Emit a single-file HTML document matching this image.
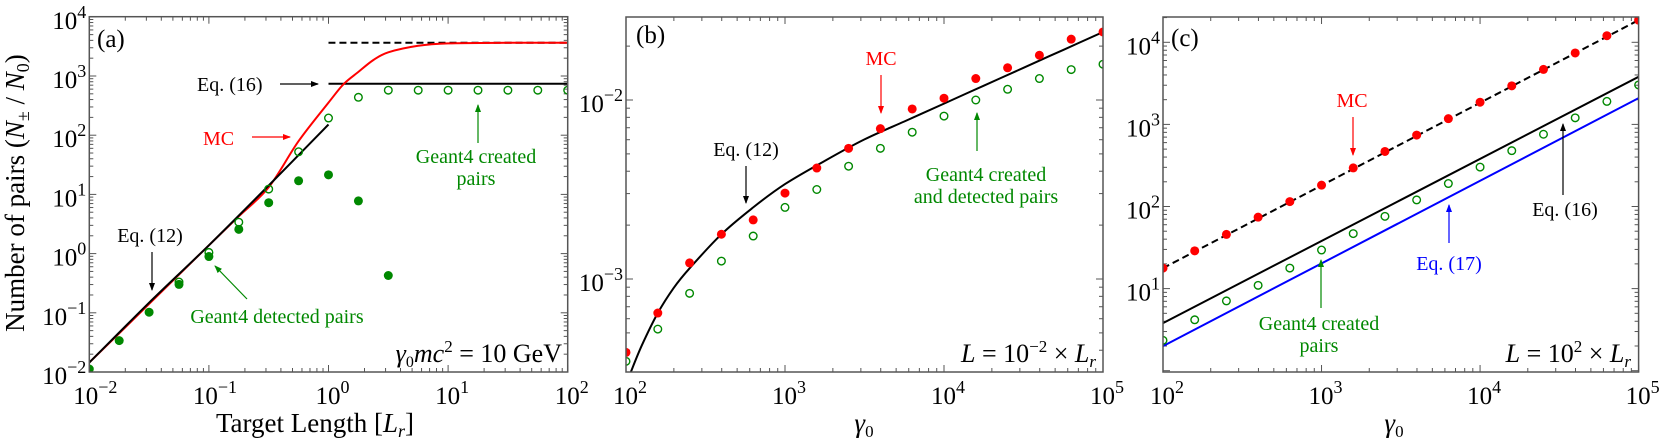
<!DOCTYPE html>
<html><head><meta charset="utf-8">
<style>
html,body{margin:0;padding:0;background:#fff;}
svg{display:block;}
svg text{font-family:"Liberation Serif","Times New Roman","DejaVu Serif",serif;}
</style></head>
<body>
<svg id="fig" width="1661" height="442" viewBox="0 0 1661 442" xmlns="http://www.w3.org/2000/svg" style="font-family:'Liberation Serif','Times New Roman','DejaVu Serif',serif;">
<defs>
<marker id="ak" markerWidth="8" markerHeight="8" refX="7" refY="4" orient="auto" markerUnits="userSpaceOnUse"><path d="M0,1 L8,4 L0,7 Z" fill="#000"/></marker>
<marker id="ar" markerWidth="8" markerHeight="8" refX="7" refY="4" orient="auto" markerUnits="userSpaceOnUse"><path d="M0,1 L8,4 L0,7 Z" fill="#f00"/></marker>
<marker id="ag" markerWidth="8" markerHeight="8" refX="7" refY="4" orient="auto" markerUnits="userSpaceOnUse"><path d="M0,1 L8,4 L0,7 Z" fill="#080"/></marker>
<marker id="ab" markerWidth="8" markerHeight="8" refX="7" refY="4" orient="auto" markerUnits="userSpaceOnUse"><path d="M0,1 L8,4 L0,7 Z" fill="#00f"/></marker>
</defs>
</svg>
<script>
// ---------- data (log10 values) ----------
const aDetX = [-2,-1.75,-1.5,-1.25,-1,-0.75,-0.5,-0.25,0,0.25,0.5];
const aDetY = [-1.95,-1.47,-0.99,-0.52,-0.05,0.41,0.86,1.23,1.33,0.89,-0.37];
const aCreX = [-1.25,-1,-0.75,-0.5,-0.25,0,0.25,0.5,0.75,1,1.25,1.5,1.75,2];
const aCreY = [-0.48,0.02,0.53,1.09,1.72,2.29,2.64,2.76,2.76,2.76,2.76,2.76,2.76,2.76];
const aEq12X = [-2,-1.5,-1,-0.5,0];
const aEq12Y = [-1.84,-0.83,0.14,1.15,2.18];
const aMcX = [-2,-1.5,-1,-0.75,-0.5,-0.25,0,0.125,0.25,0.375,0.5,0.75,1,1.5,2];
const aMcY = [-1.84,-0.85,0.14,0.63,1.12,1.9,2.55,2.86,3.07,3.27,3.4,3.51,3.55,3.56,3.56];
const aSatX = [0,2];
const aSatY = [3.56,3.56];
const aEq16X = [0,2];
const aEq16Y = [2.87,2.87];
const bX = [2,2.2,2.4,2.6,2.8,3,3.2,3.4,3.6,3.8,4,4.2,4.4,4.6,4.8,5];
const bMc = [-3.41,-3.19,-2.91,-2.75,-2.67,-2.52,-2.38,-2.27,-2.16,-2.05,-1.99,-1.88,-1.82,-1.75,-1.66,-1.62];
const bG4 = [-3.46,-3.28,-3.08,-2.90,-2.76,-2.60,-2.50,-2.37,-2.27,-2.18,-2.09,-2.00,-1.94,-1.88,-1.83,-1.80];
const bEqX = [2.03,2.1,2.2,2.3,2.4,2.6,2.8,3,3.25,3.5,3.75,4,4.25,4.5,4.75,5];
const bEqY = [-3.52,-3.37,-3.19,-3.05,-2.94,-2.75,-2.60,-2.47,-2.34,-2.22,-2.12,-2.02,-1.92,-1.82,-1.72,-1.62];
const cX = [2,2.2,2.4,2.6,2.8,3,3.2,3.4,3.6,3.8,4,4.2,4.4,4.6,4.8,5];
const cMc = [1.25,1.46,1.66,1.87,2.06,2.26,2.47,2.67,2.87,3.07,3.27,3.47,3.67,3.87,4.08,4.27];
const cG4 = [0.37,0.62,0.85,1.04,1.25,1.47,1.67,1.88,2.08,2.28,2.48,2.68,2.88,3.08,3.28,3.48];
const cLineX = [2,5];
const cEq16 = [0.58,3.58];
const cEq17 = [0.30,3.32];
const cDashX = [2,5];
const cDash = [1.25,4.27];
const aXTicks = [-2,-1,0,1,2];
const aYTicks = [-2,-1,0,1,2,3,4];
const bXTicks = [2,3,4,5];
const bYTicks = [-3,-2];
const cXTicks = [2,3,4,5];
const cYTicks = [1,2,3,4];

const NS = "http://www.w3.org/2000/svg";
const svg = document.getElementById('fig');
function mk(tag, attrs, parent){
  const e = document.createElementNS(NS, tag);
  for (const k in attrs) e.setAttribute(k, attrs[k]);
  if (tag==='text') e.setAttribute('font-family',"'Liberation Serif','Times New Roman','DejaVu Serif',serif");
  (parent||svg).appendChild(e);
  return e;
}
function axes(P){
  P.sx = v => P.x0 + (v - P.xmin)/(P.xmax-P.xmin)*(P.x1-P.x0);
  P.sy = v => P.yref - (v - P.yrefv)*P.ydec;
  P.g = mk('g',{});
  
  
  const ylo = P.yrefv - (P.y1 - P.yref)/P.ydec, yhi = P.yrefv + (P.yref - P.y0)/P.ydec;
  const tg = mk('g',{stroke:'#555','stroke-width':1}, P.g);
  
  
  for (let d=Math.floor(P.xmin); d<=P.xmax; d++){
    for (let m=1;m<10;m++){
      const v = d+Math.log10(m); if (v<P.xmin-1e-9||v>P.xmax+1e-9) continue;
      const px=P.sx(v), len = m===1?7:4;
      mk('line',{x1:px,x2:px,y1:P.y1,y2:P.y1-len},tg);
      mk('line',{x1:px,x2:px,y1:P.y0,y2:P.y0+len},tg);
    }
  }
  for (let d=Math.floor(ylo); d<=yhi; d++){
    for (let m=1;m<10;m++){
      const v = d+Math.log10(m); if (v<ylo-1e-9||v>yhi+1e-9) continue;
      const py=P.sy(v), len = m===1?7:4;
      mk('line',{x1:P.x0,x2:P.x0+len,y1:py,y2:py},tg);
      mk('line',{x1:P.x1,x2:P.x1-len,y1:py,y2:py},tg);
    }
  }
  P.xt.forEach(v=>{
    const sup = String(v).replace('-','\u2212');
    const t = mk('text',{x:P.sx(v)+(sup.length>1?6:4),y:P.y1+32,'text-anchor':'middle','font-size':25},P.g);
    
    
    t.textContent='10';
    const s = mk('tspan',{dy:-11,'font-size':18},t); s.textContent=sup;
  });
  P.yt.forEach(v=>{
    const sup = String(v).replace('-','\u2212');
    const t = mk('text',{x:P.x0-3,y:P.sy(v)+12,'text-anchor':'end','font-size':25},P.g);
    
    
    t.textContent='10';
    const s = mk('tspan',{dy:-11,'font-size':18},t); s.textContent=sup;
  });
}
function frame(P){
  const r = mk('rect',{x:P.x0,y:P.y0,width:P.x1-P.x0,height:P.y1-P.y0,fill:'none',stroke:'#555','stroke-width':1.5},P.g);
  
  
}
function clipFor(P){
  const id='clip'+P.name;
  const c = mk('clipPath',{id:id});
  mk('rect',{x:P.x0,y:P.y0,width:P.x1-P.x0,height:P.y1-P.y0},c);
  return 'url(#'+id+')';
}
function line(P, xs, ys, attrs, name){
  const pts = xs.map((x,i)=>[P.sx(x),P.sy(ys[i])]);
  let d = 'M'+pts[0][0].toFixed(1)+','+pts[0][1].toFixed(1);
  for (let i=0;i<pts.length-1;i++){
    const p0=pts[Math.max(0,i-1)], p1=pts[i], p2=pts[i+1], p3=pts[Math.min(pts.length-1,i+2)];
    const c1=[p1[0]+(p2[0]-p0[0])/6, p1[1]+(p2[1]-p0[1])/6];
    const c2=[p2[0]-(p3[0]-p1[0])/6, p2[1]-(p3[1]-p1[1])/6];
    d += ' C'+c1[0].toFixed(1)+','+c1[1].toFixed(1)+' '+c2[0].toFixed(1)+','+c2[1].toFixed(1)+' '+p2[0].toFixed(1)+','+p2[1].toFixed(1);
  }
  const p = mk('path',Object.assign({d:d,fill:'none','clip-path':P.clip},attrs),P.g);
  
  
}
function dots(P, xs, ys, filled, color, name){
  const g = mk('g',{'clip-path':P.clip},P.g);
  
  
  xs.forEach((x,i)=>{
    const c = filled ? mk('circle',{cx:P.sx(x),cy:P.sy(ys[i]),r:4.5,fill:color},g)
                     : mk('circle',{cx:P.sx(x),cy:P.sy(ys[i]),r:3.8,fill:'none',stroke:color,'stroke-width':1.4},g);
    
    
  });
}
function txt(x,y,s,attrs,name){
  const t = mk('text',Object.assign({x:x,y:y,'font-size':20},attrs||{}));
  
  
  t.innerHTML = s;
  return t;
}
function arrow(x1,y1,x2,y2,color,mid,name){
  const l = mk('line',{x1:x1,y1:y1,x2:x2,y2:y2,stroke:color,'stroke-width':1.2,'marker-end':'url(#'+mid+')'});
  
  
}

// ---------- panel a ----------
const A = {name:'panel-a',x0:89.3,x1:567.7,y0:16.7,y1:372,xmin:-2,xmax:2,yref:372,yrefv:-2,ydec:59.2,xt:aXTicks,yt:aYTicks};
axes(A); A.clip = clipFor(A);
line(A,aSatX,aSatY,{stroke:'#000','stroke-width':2,'stroke-dasharray':'7,4'},'mc-saturation-dashed-line');
line(A,aEq16X,aEq16Y,{stroke:'#000','stroke-width':2},'eq16-line');
line(A,aMcX,aMcY,{stroke:'#f00','stroke-width':2},'mc-curve');
line(A,aEq12X,aEq12Y,{stroke:'#000','stroke-width':2},'eq12-line');
dots(A,aCreX,aCreY,false,'#080','geant4-created-points');
dots(A,aDetX,aDetY,true,'#080','geant4-detected-points');
frame(A);
txt(97,47,'(a)',{'font-size':25},'panel-a-label');
txt(197,91,'Eq. (16)',{},'eq16-annotation'); arrow(280,84,318,84,'#000','ak','eq16-arrow');
txt(203,145,'MC',{fill:'#f00'},'mc-annotation'); arrow(252,137,290,137,'#f00','ar','mc-arrow');
txt(476,163,'Geant4 created',{fill:'#080','text-anchor':'middle'},'geant4-created-annotation');
txt(476,185,'pairs',{fill:'#080','text-anchor':'middle'},'geant4-created-annotation-2');
arrow(478,143,478,105,'#080','ag','geant4-created-arrow');
txt(150,242,'Eq. (12)',{'text-anchor':'middle'},'eq12-annotation'); arrow(152,252,152,290,'#000','ak','eq12-arrow');
txt(277,323,'Geant4 detected pairs',{fill:'#080','text-anchor':'middle'},'geant4-detected-annotation');
arrow(247,299,215,266,'#080','ag','geant4-detected-arrow');
txt(562,362,'<tspan font-style="italic">γ</tspan><tspan font-size="16" dy="5">0</tspan><tspan dy="-5" font-style="italic">mc</tspan><tspan font-size="17" dy="-10">2</tspan><tspan dy="10"> = 10 GeV</tspan>',{'text-anchor':'end','font-size':26},'energy-annotation');
txt(315,432,'Target Length [<tspan font-style="italic">L</tspan><tspan font-style="italic" font-size="18" dy="5">r</tspan><tspan dy="-5">]</tspan>',{'text-anchor':'middle','font-size':27},'x-axis-title-a');
txt(0,0,'Number of pairs (<tspan font-style="italic">N</tspan><tspan font-size="18" dy="5">±</tspan><tspan dy="-5"> / </tspan><tspan font-style="italic">N</tspan><tspan font-size="18" dy="5">0</tspan><tspan dy="-5">)</tspan>',{'text-anchor':'middle','font-size':27,transform:'translate(24,193) rotate(-90)'},'y-axis-title');

// ---------- panel b ----------
const B = {name:'panel-b',x0:626,x1:1103,y0:17,y1:372,xmin:2,xmax:5,yref:100,yrefv:-2,ydec:179,xt:bXTicks,yt:bYTicks};
axes(B); B.clip = clipFor(B);
line(B,bEqX,bEqY,{stroke:'#000','stroke-width':2},'eq12-curve-b');
dots(B,bX,bG4,false,'#080','geant4-points-b');
dots(B,bX,bMc,true,'#f00','mc-points-b');
frame(B);
txt(636,43,'(b)',{'font-size':25},'panel-b-label');
txt(881,65,'MC',{fill:'#f00','text-anchor':'middle'},'mc-annotation-b'); arrow(881,75,881,113,'#f00','ar','mc-arrow-b');
txt(746,156,'Eq. (12)',{'text-anchor':'middle'},'eq12-annotation-b'); arrow(746,166,746,203,'#000','ak','eq12-arrow-b');
txt(986,181,'Geant4 created',{fill:'#080','text-anchor':'middle'},'geant4-annotation-b');
txt(986,203,'and detected pairs',{fill:'#080','text-anchor':'middle'},'geant4-annotation-b-2');
arrow(977,151,977,113,'#080','ag','geant4-arrow-b');
txt(1096,362,'<tspan font-style="italic">L</tspan> = 10<tspan font-size="17" dy="-10">−2</tspan><tspan dy="10"> × </tspan><tspan font-style="italic">L</tspan><tspan font-style="italic" font-size="17" dy="5">r</tspan>',{'text-anchor':'end','font-size':26},'length-annotation-b');
txt(864,432,'<tspan font-style="italic">γ</tspan><tspan font-size="17" dy="5">0</tspan>',{'text-anchor':'middle','font-size':27},'x-axis-title-b');

// ---------- panel c ----------
const C = {name:'panel-c',x0:1163,x1:1638.6,y0:17,y1:372,xmin:2,xmax:5,yref:42.3,yrefv:4,ydec:82.1,xt:cXTicks,yt:cYTicks};
axes(C); C.clip = clipFor(C);
line(C,cDashX,cDash,{stroke:'#000','stroke-width':2,'stroke-dasharray':'7,4'},'mc-fit-dashed-line');
line(C,cLineX,cEq16,{stroke:'#000','stroke-width':2},'eq16-line-c');
line(C,cLineX,cEq17,{stroke:'#00f','stroke-width':2},'eq17-line-c');
dots(C,cX,cG4,false,'#080','geant4-points-c');
dots(C,cX,cMc,true,'#f00','mc-points-c');
frame(C);
txt(1171,46,'(c)',{'font-size':25},'panel-c-label');
txt(1352,107,'MC',{fill:'#f00','text-anchor':'middle'},'mc-annotation-c'); arrow(1353,117,1353,155,'#f00','ar','mc-arrow-c');
txt(1565,216,'Eq. (16)',{'text-anchor':'middle'},'eq16-annotation-c'); arrow(1563,195,1563,124,'#000','ak','eq16-arrow-c');
txt(1449,270,'Eq. (17)',{fill:'#00f','text-anchor':'middle'},'eq17-annotation-c'); arrow(1449,243,1449,205,'#00f','ab','eq17-arrow-c');
txt(1319,330,'Geant4 created',{fill:'#080','text-anchor':'middle'},'geant4-annotation-c');
txt(1319,352,'pairs',{fill:'#080','text-anchor':'middle'},'geant4-annotation-c-2');
arrow(1321,308,1321,260,'#080','ag','geant4-arrow-c');
txt(1631,362,'<tspan font-style="italic">L</tspan> = 10<tspan font-size="17" dy="-10">2</tspan><tspan dy="10"> × </tspan><tspan font-style="italic">L</tspan><tspan font-style="italic" font-size="17" dy="5">r</tspan>',{'text-anchor':'end','font-size':26},'length-annotation-c');
txt(1394,432,'<tspan font-style="italic">γ</tspan><tspan font-size="17" dy="5">0</tspan>',{'text-anchor':'middle','font-size':27},'x-axis-title-c');
</script>
</body></html>
